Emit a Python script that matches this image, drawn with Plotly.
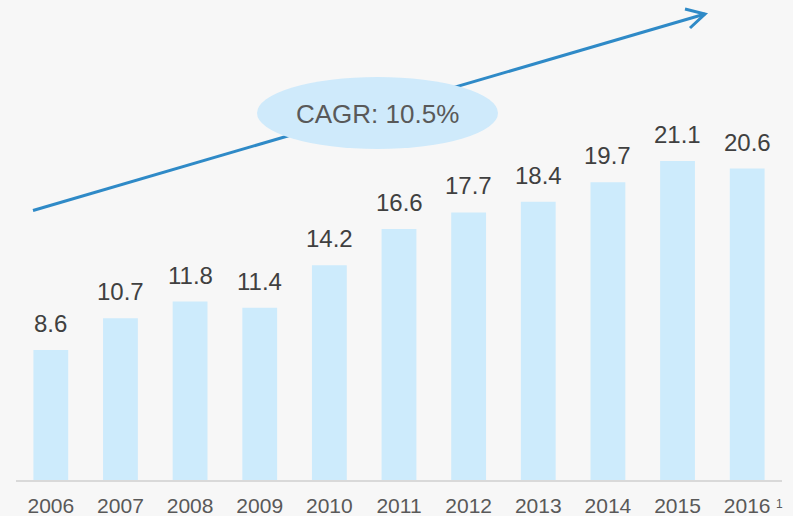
import plotly.graph_objects as go

years = ["2006", "2007", "2008", "2009", "2010", "2011", "2012", "2013", "2014", "2015", "2016"]
values = [8.6, 10.7, 11.8, 11.4, 14.2, 16.6, 17.7, 18.4, 19.7, 21.1, 20.6]
value_labels = ["8.6", "10.7", "11.8", "11.4", "14.2", "16.6", "17.7", "18.4", "19.7", "21.1", "20.6"]
cagr_text = "CAGR: 10.5%"
footnote_mark = "1"

W, H = 793, 516
ML, MR, MT, MB = 16, 11, 0, 36
PW, PH = W - ML - MR, H - MT - MB

def px(x):
    return (x - ML) / PW

def py(y):
    return (H - MB - y) / PH

BG = "#f7f7f7"
BAR = "#cdebfc"
ARROW = "#2f8ac7"
FONT = "Liberation Sans, Arial, sans-serif"

fig = go.Figure()
fig.add_trace(go.Bar(x=years, y=values, marker=dict(color=BAR, line=dict(width=0)),
                     width=0.5, hoverinfo="skip"))

for i, (v, lab) in enumerate(zip(values, value_labels)):
    fig.add_annotation(x=i, y=v, xref="x", yref="y", text=lab, showarrow=False,
                       xanchor="center", yanchor="bottom", yshift=11,
                       font=dict(family=FONT, size=24, color="#404040"))

# arrow line + chevron head
x0, y0, x1, y1 = 33, 210.5, 705, 14
fig.add_shape(type="line", xref="paper", yref="paper",
              x0=px(x0), y0=py(y0), x1=px(x1), y1=py(y1),
              line=dict(color=ARROW, width=3))
head = f"M {px(685)} {py(9)} L {px(x1)} {py(y1)} L {px(690)} {py(28)}"
fig.add_shape(type="path", xref="paper", yref="paper", path=head,
              line=dict(color=ARROW, width=3))

# ellipse
fig.add_shape(type="circle", xref="paper", yref="paper",
              x0=px(257), x1=px(498), y0=py(149), y1=py(77),
              fillcolor="#cfeafb", line=dict(width=0))
fig.add_annotation(x=px(377.5), y=py(114), xref="paper", yref="paper", text=cagr_text,
                   showarrow=False, xanchor="center", yanchor="middle",
                   font=dict(family=FONT, size=26, color="#595959"))

fig.add_annotation(x=len(years) - 1, y=0, xref="x", yref="paper", text=footnote_mark,
                   showarrow=False, xanchor="left", yanchor="top", xshift=27, yshift=-15,
                   font=dict(family=FONT, size=12, color="#595959"))

fig.update_layout(
    width=W, height=H,
    margin=dict(l=ML, r=MR, t=MT, b=MB, pad=0),
    paper_bgcolor=BG, plot_bgcolor=BG,
    showlegend=False,
    bargap=0.5,
    xaxis=dict(type="category", range=[-0.5, 10.5], showline=True, linecolor="#d9d9d9",
               linewidth=2, ticks="", showgrid=False, zeroline=False, ticklabelstandoff=6,
               tickfont=dict(family=FONT, size=21, color="#595959")),
    yaxis=dict(range=[0, 31.75], visible=False, showgrid=False, zeroline=False),
)

fig.write_html("out.html", config={"displayModeBar": False},
               post_script="document.body.style.margin='0';")
